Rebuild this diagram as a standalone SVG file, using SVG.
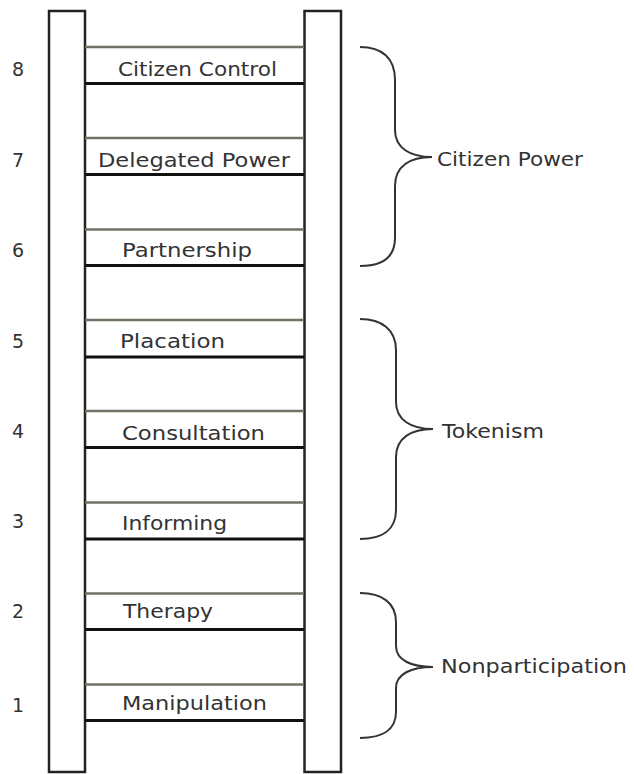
<svg xmlns="http://www.w3.org/2000/svg" width="634" height="774" viewBox="0 0 634 774">
<style>
.bg{fill:#ffffff}
.rail{fill:#ffffff;stroke:#222;stroke-width:2.5}
.rtop{stroke:#6f7264;stroke-width:2.5}
.rbot{stroke:#111;stroke-width:3}
.lbl{font-family:"DejaVu Sans",sans-serif;font-size:19px;fill:#333}
.num{font-family:"DejaVu Sans",sans-serif;font-size:19px;fill:#333}
.br{fill:none;stroke:#333;stroke-width:2}
</style>
<rect class="bg" x="0" y="0" width="634" height="774"/>
<g id="rails">
<rect class="rail" x="49" y="11" width="36" height="761"/>
<rect class="rail" x="304.5" y="11" width="36.5" height="761"/>
</g>
<g id="rung8">
<line class="rtop" x1="85" y1="47" x2="304" y2="47"/>
<line class="rbot" x1="85" y1="83.5" x2="304" y2="83.5"/>
<text class="lbl" x="118" y="76" textLength="159" lengthAdjust="spacingAndGlyphs">Citizen Control</text>
<text class="num" x="12" y="76">8</text>
</g>
<g id="rung7">
<line class="rtop" x1="85" y1="138" x2="304" y2="138"/>
<line class="rbot" x1="85" y1="174.5" x2="304" y2="174.5"/>
<text class="lbl" x="98" y="167" textLength="192" lengthAdjust="spacingAndGlyphs">Delegated Power</text>
<text class="num" x="12" y="167">7</text>
</g>
<g id="rung6">
<line class="rtop" x1="85" y1="229.5" x2="304" y2="229.5"/>
<line class="rbot" x1="85" y1="265.5" x2="304" y2="265.5"/>
<text class="lbl" x="122" y="257" textLength="130" lengthAdjust="spacingAndGlyphs">Partnership</text>
<text class="num" x="12" y="257">6</text>
</g>
<g id="rung5">
<line class="rtop" x1="85" y1="320" x2="304" y2="320"/>
<line class="rbot" x1="85" y1="357" x2="304" y2="357"/>
<text class="lbl" x="120" y="348" textLength="105" lengthAdjust="spacingAndGlyphs">Placation</text>
<text class="num" x="12" y="348">5</text>
</g>
<g id="rung4">
<line class="rtop" x1="85" y1="411" x2="304" y2="411"/>
<line class="rbot" x1="85" y1="447.5" x2="304" y2="447.5"/>
<text class="lbl" x="122" y="440" textLength="143" lengthAdjust="spacingAndGlyphs">Consultation</text>
<text class="num" x="12" y="438">4</text>
</g>
<g id="rung3">
<line class="rtop" x1="85" y1="502.5" x2="304" y2="502.5"/>
<line class="rbot" x1="85" y1="539" x2="304" y2="539"/>
<text class="lbl" x="122" y="530" textLength="105" lengthAdjust="spacingAndGlyphs">Informing</text>
<text class="num" x="12" y="528">3</text>
</g>
<g id="rung2">
<line class="rtop" x1="85" y1="593.5" x2="304" y2="593.5"/>
<line class="rbot" x1="85" y1="629.5" x2="304" y2="629.5"/>
<text class="lbl" x="123" y="618" textLength="90" lengthAdjust="spacingAndGlyphs">Therapy</text>
<text class="num" x="12" y="618">2</text>
</g>
<g id="rung1">
<line class="rtop" x1="85" y1="684.5" x2="304" y2="684.5"/>
<line class="rbot" x1="85" y1="720.5" x2="304" y2="720.5"/>
<text class="lbl" x="122" y="710" textLength="145" lengthAdjust="spacingAndGlyphs">Manipulation</text>
<text class="num" x="12" y="712">1</text>
</g>
<g id="connectors">
<path class="br" d="M360,47 C382,47 395,58 395,80 L395,130 C395,148 410,157 432,157 C410,157 395,166 395,186 L395,238 C395,258 382,266 360,266"/>
<path class="br" d="M360,319 C382,319 396,330 396,350 L396,402 C396,420 411,429 433,429 C411,429 396,438 396,457 L396,510 C396,530 382,539 360,539"/>
<path class="br" d="M360,593 C382,593 396,603 396,622 L396,646 C396,660 411,667 433,667 C411,667 396,674 396,688 L396,712 C396,730 382,738 360,738"/>
</g>
<g id="group-citizen-power">
<text class="lbl" x="437" y="166" textLength="146" lengthAdjust="spacingAndGlyphs">Citizen Power</text>
</g>
<g id="group-tokenism">
<text class="lbl" x="442" y="438" textLength="102" lengthAdjust="spacingAndGlyphs">Tokenism</text>
</g>
<g id="group-nonparticipation">
<text class="lbl" x="441" y="673" textLength="186" lengthAdjust="spacingAndGlyphs">Nonparticipation</text>
</g>
</svg>
